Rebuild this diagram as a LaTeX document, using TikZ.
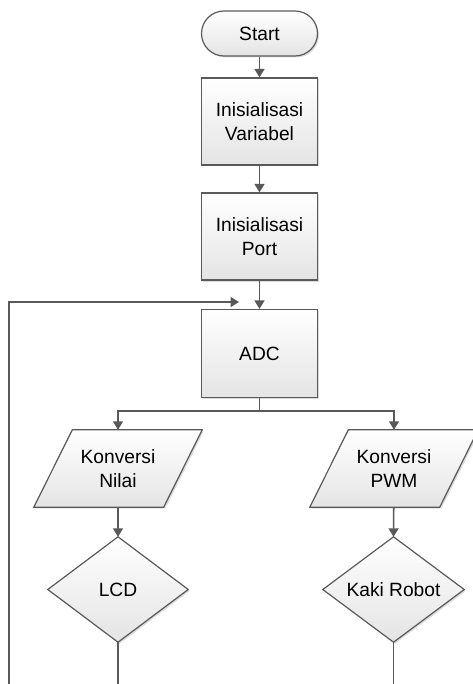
\documentclass[tikz,border=0pt]{standalone}
\usepackage{fontspec}
\setmainfont{Liberation Sans}
\usetikzlibrary{arrows.meta,shadows,calc,backgrounds}
\definecolor{edge}{HTML}{5A5A5A}
\definecolor{wire}{HTML}{595959}
\definecolor{fillbot}{HTML}{E4E4E4}
\tikzset{
  shapebox/.style={draw=edge, line width=1.2pt, top color=white, bottom color=fillbot,
    drop shadow={shadow xshift=1.5pt, shadow yshift=-1.5pt, fill=black!14, opacity=1}},
  txt/.style={font=\fontsize{19.2}{24}\selectfont, align=center, inner sep=0pt},
  wireline/.style={draw=wire, line width=1.6pt},
  flow/.style={wireline, -{Triangle[length=8.5pt,width=10pt]}},
}
\begin{document}
\begin{tikzpicture}[x=1pt,y=-1pt]
\useasboundingbox (0,0) rectangle (472,684);
\clip (0,0) rectangle (472,684);

% process boxes
\node[shapebox, txt, rounded corners=22.5pt, minimum width=116pt, minimum height=45pt] (start) at (259.5,33.5) {Start};
\node[shapebox, txt, minimum width=116pt, minimum height=87pt] (var) at (259.5,121.5) {Inisialisasi\\Variabel};
\node[shapebox, txt, minimum width=116pt, minimum height=87pt] (port) at (259.5,236.5) {Inisialisasi\\Port};
\node[shapebox, txt, minimum width=116pt, minimum height=88pt] (adc) at (259.5,353.5) {ADC};

% parallelograms (text nodes, outline on background)
\node[txt, minimum width=91pt, minimum height=77pt] (kn) at (118,468.5) {Konversi\\Nilai};
\node[txt, minimum width=91pt, minimum height=77pt] (kp) at (394,468.5) {Konversi\\PWM};
% diamonds
\node[txt, minimum width=140pt, minimum height=105pt] (lcd) at (118,589.5) {LCD};
\node[txt, minimum width=141pt, minimum height=105pt] (kaki) at (393.5,589.5) {Kaki Robot};

\begin{scope}[on background layer]
  \path[shapebox] (kn.north west) -- ($(kn.north east)+(38.5,0)$)
     -- (kn.south east) -- ($(kn.south west)+(-38.5,0)$) -- cycle;
  \path[shapebox] (kp.north west) -- ($(kp.north east)+(38.5,0)$)
     -- (kp.south east) -- ($(kp.south west)+(-38.5,0)$) -- cycle;
  \path[shapebox] (lcd.north) -- (lcd.east) -- (lcd.south) -- (lcd.west) -- cycle;
  \path[shapebox] (kaki.north) -- (kaki.east) -- (kaki.south) -- (kaki.west) -- cycle;
\end{scope}

% connector points
\coordinate (loopin) at (239,302);
\coordinate (split) at (259.5,411);
\coordinate (lend) at (118,684);
\coordinate (rend) at (393.5,684);
\coordinate (loopbot) at (9,684);

\draw[flow] (start) -- (var);
\draw[flow] (var) -- (port);
\draw[flow] (port) -- (adc);
\draw[wireline] (adc.south) -- (split);
\draw[flow] (split) -| (kn.north);
\draw[flow] (split) -| (kp.north);
\draw[flow] (kn) -- (lcd);
\draw[flow] (kp) -- (kaki.north);
\draw[wireline] (lcd.south) -- (lend);
\draw[wireline] (kaki.south) -- (rend);
\draw[flow] (loopbot) |- (loopin);
\end{tikzpicture}
\end{document}
